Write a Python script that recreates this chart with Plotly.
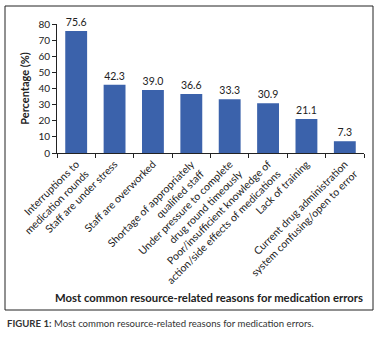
import plotly.graph_objects as go

categories = [
    "Interruptions to<br>medication rounds",
    "Staff are under stress",
    "Staff are overworked",
    "Shortage of appropriately<br>qualified staff",
    "Under pressure to complete<br>drug round timeously",
    "Poor/insufficient knowledge of<br>action/side effects of medications",
    "Lack of training",
    "Current drug administration<br>system confusing/open to error",
]
values = [75.6, 42.3, 39.0, 36.6, 33.3, 30.9, 21.1, 7.3]
y_ticks = [0, 10, 20, 30, 40, 50, 60, 70, 80]

FONT = "Lato, Open Sans, sans-serif"

fig = go.Figure(go.Bar(
    x=categories, y=values,
    marker=dict(color="#3B62AB", line=dict(width=0)),
    text=[f"{v:.1f}" for v in values], textposition="outside",
    textfont=dict(size=10.5, color="#222", family=FONT),
    cliponaxis=False, width=0.57,
))

fig.update_layout(
    width=382, height=338,
    margin=dict(l=57, r=18, t=24, b=185, autoexpand=False),
    paper_bgcolor="white", plot_bgcolor="white",
    font=dict(family=FONT, color="#222"),
    showlegend=False,
    xaxis=dict(
        tickangle=-45, tickfont=dict(size=10.5), ticks="outside", ticklen=4,
        tickson="boundaries", showline=True, linecolor="#222", linewidth=1,
        tickcolor="#222", automargin=False,
    ),
    yaxis=dict(
        range=[0, 80], tickvals=y_ticks, tickfont=dict(size=10), ticks="outside",
        ticklen=4, showline=True, linecolor="#222", linewidth=1, tickcolor="#222",
        showgrid=False, zeroline=False, automargin=False,
        title=dict(text="<b>Percentage (%)</b>", font=dict(size=11), standoff=6),
    ),
    shapes=[dict(type="rect", xref="paper", yref="paper",
                 x0=(5 - 57) / 307, x1=(373 - 57) / 307,
                 y0=(153 - 310) / 129, y1=(153 - 6) / 129,
                 line=dict(color="#222", width=1))],
    annotations=[
        dict(text="<b>Most common resource-related reasons for medication errors</b>",
             xref="paper", yref="paper", x=(365 - 57) / 307, y=(153 - 297) / 129,
             xanchor="right", yanchor="middle", showarrow=False,
             font=dict(size=11.3, color="#222")),
        dict(text="<b>FIGURE 1:</b> Most common resource-related reasons for medication errors.",
             xref="paper", yref="paper", x=(5 - 57) / 307, y=(153 - 324) / 129,
             xanchor="left", yanchor="middle", showarrow=False,
             font=dict(size=9.6, color="#333")),
    ],
)

fig.write_html("out.html", config={"displayModeBar": False},
               post_script="document.body.style.margin='0';document.body.style.overflow='hidden';")
